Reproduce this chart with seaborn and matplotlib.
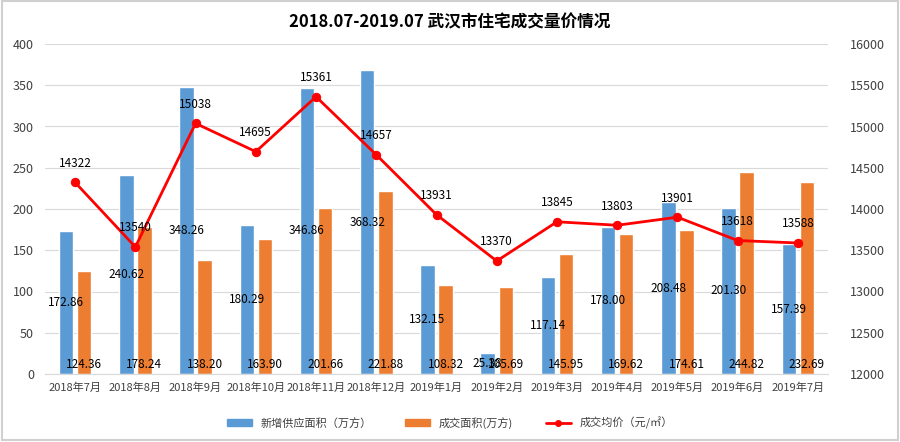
import numpy as np
import pandas as pd
import seaborn as sns
import matplotlib.pyplot as plt
from matplotlib.patches import Rectangle
from matplotlib.lines import Line2D
from matplotlib.patches import Patch

sns.set_style("white")
plt.rcParams['font.family'] = ['Noto Sans CJK SC', 'DejaVu Sans']

# data
months = ["2018年7月", "2018年8月", "2018年9月", "2018年10月", "2018年11月", "2018年12月",
          "2019年1月", "2019年2月", "2019年3月", "2019年4月", "2019年5月", "2019年6月", "2019年7月"]
supply = [172.86, 240.62, 348.26, 180.29, 346.86, 368.32, 132.15, 25.38, 117.14, 178.00, 208.48, 201.30, 157.39]
deal = [124.36, 178.24, 138.20, 163.90, 201.66, 221.88, 108.32, 105.69, 145.95, 169.62, 174.61, 244.82, 232.69]
price = [14322, 13540, 15038, 14695, 15361, 14657, 13931, 13370, 13845, 13803, 13901, 13618, 13588]

s_supply = "新增供应面积（万方）"
s_deal = "成交面积(万方)"
s_price = "成交均价（元/㎡）"
blue = "#5B9BD5"
orange = "#ED7D31"
red = "#FF0000"

df = pd.DataFrame({"month": months * 2,
                   "value": supply + deal,
                   "series": [s_supply] * len(months) + [s_deal] * len(months)})

fig = plt.figure(figsize=(9, 4.42), dpi=100)
ax = fig.add_axes([45 / 900, 1 - 374 / 442, (828 - 45) / 900, 330 / 442])

sns.barplot(data=df, x="month", y="value", hue="series", palette=[blue, orange],
            width=0.6, gap=0.2, ax=ax, legend=False, saturation=1)

ax.set_ylim(0, 400)
ax.set_yticks(np.arange(0, 401, 50))
ax.set_xlim(-0.5, len(months) - 0.5)
ax.yaxis.grid(True, color="#D9D9D9", linewidth=0.8)
ax.set_axisbelow(True)
for sp in ["top", "right", "left"]:
    ax.spines[sp].set_visible(False)
ax.spines["bottom"].set_color("#D9D9D9")
ax.set_xlabel("")
ax.set_ylabel("")
ax.tick_params(axis="x", length=0, labelsize=8, colors="#404040", pad=6)
ax.tick_params(axis="y", length=0, labelsize=9, colors="#404040", pad=8)

# bar labels: blue centred, orange at base
x = np.arange(len(months))
for i in range(len(months)):
    ax.text(x[i] - 0.15, supply[i] / 2, f"{supply[i]:.2f}", ha="center", va="center",
            fontsize=8.5, color="#000000")
    ax.text(x[i] + 0.15, 12, f"{deal[i]:.2f}", ha="center", va="center",
            fontsize=8.5, color="#000000")

ax2 = ax.twinx()
sns.lineplot(x=x, y=price, ax=ax2, color=red, linewidth=2, marker="o", markersize=6,
             markeredgecolor=red, legend=False)
ax2.set_ylim(12000, 16000)
ax2.set_yticks(np.arange(12000, 16001, 500))
for sp in ["top", "right", "left", "bottom"]:
    ax2.spines[sp].set_visible(False)
ax2.tick_params(axis="y", length=0, labelsize=9, colors="#404040", pad=16)
for i in range(len(months)):
    ax2.annotate(str(price[i]), (x[i], price[i]), xytext=(0, 9), textcoords="offset points",
                 ha="center", va="bottom", fontsize=8.5, color="#000000")

fig.text(0.5, 1 - 22 / 442, "2018.07-2019.07 武汉市住宅成交量价情况", ha="center", va="center",
         fontsize=12, fontweight="bold", color="#000000")

handles = [Patch(color=blue, label=s_supply),
           Patch(color=orange, label=s_deal),
           Line2D([0], [0], color=red, linewidth=2, marker="o", markersize=4, label=s_price)]
fig.legend(handles=handles, loc="center", bbox_to_anchor=(0.5, 1 - 423 / 442), ncol=3,
           frameon=False, fontsize=8, handlelength=2.2, handleheight=0.6, columnspacing=3,
           labelcolor="#404040")

fig.patches.append(Rectangle((0.002, 0.004), 0.996, 0.994, transform=fig.transFigure,
                             fill=False, edgecolor="#D0D0D0", linewidth=1.5))

fig.savefig("out.png", dpi=100)
